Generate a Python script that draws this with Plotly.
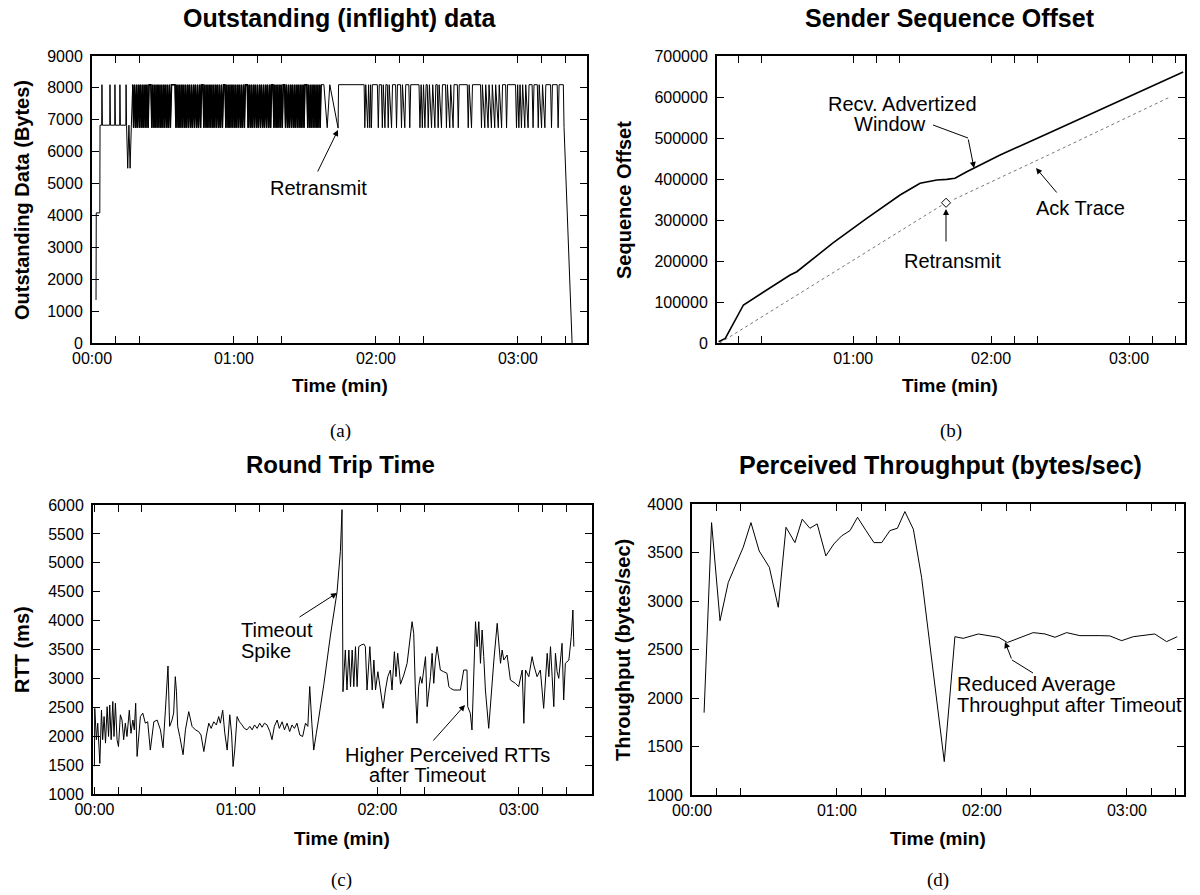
import plotly.graph_objects as go

# ---------------- data ----------------
# (a) Outstanding (inflight) data, time in seconds
out_time = [
    1.7, 1.8, 3.3, 3.4, 4.1, 4.2, 4.4, 7.5, 7.6, 7.8, 9.6, 9.7, 9.9, 11.7, 11.8, 12.0, 14.3, 14.4, 14.6, 15.1, 15.6, 16.1, 16.6,
    17.2, 17.6, 18.0, 18.5, 18.9, 19.3, 19.8, 20.2, 20.6, 21.1, 21.5, 21.9, 22.4, 22.8, 23.2, 23.7, 24.1,
    24.9, 25.3, 25.7, 26.2, 26.6, 27.0, 27.5, 27.9, 28.3, 28.8, 29.2, 29.6, 30.1, 30.5, 30.9, 31.4, 31.8, 32.2, 32.7, 33.1, 33.6,
    35.1, 35.5, 35.9, 36.4, 36.8, 37.2, 37.7, 38.1, 38.5, 39.0, 39.4, 39.8, 40.3, 40.7, 41.1, 41.6, 42.0, 42.4, 42.9, 43.3, 43.7, 44.2, 44.6, 45.0, 45.5, 45.9, 46.3,
    46.9, 47.3, 47.7, 48.2, 48.6, 49.0, 49.5, 49.9, 50.3, 50.8, 51.2, 51.6, 52.1, 52.5, 52.9, 53.4, 53.8, 54.2, 54.7, 55.1, 55.6,
    56.2, 56.6, 57.0, 57.5, 57.9, 58.3, 58.8, 59.2, 59.6, 60.1, 60.5, 60.9, 61.4, 61.8, 62.2, 62.7, 63.1, 63.5, 64.0, 64.4, 64.8,
    65.6, 66.0, 66.4, 66.9, 67.3, 67.7, 68.2, 68.6, 69.0, 69.5, 69.9, 70.3, 70.8, 71.2, 71.6, 72.1, 72.5, 72.9, 73.4, 73.8, 74.2, 74.7, 75.1, 75.5, 75.9,
    76.5, 76.9, 77.3, 77.8, 78.2, 78.6, 79.1, 79.5, 79.9, 80.4, 80.8,
    81.4, 81.8, 82.2, 82.7, 83.1, 83.5, 84.0, 84.4, 84.8, 85.3, 85.7, 86.1, 86.6, 87.0, 87.4, 87.9, 88.3, 88.7, 89.2, 89.6, 90.0,
    90.8, 91.2, 91.6, 92.1, 92.5, 92.9, 93.4, 93.8, 94.2, 94.7, 95.1, 95.5, 96.0, 96.4, 96.8,
    98.0, 99.4, 100.5, 104.0, 104.2,
    115.0, 115.3, 115.7, 116.5, 116.9, 117.4, 117.75, 118.1, 118.5,
    120.6, 121.0, 121.4, 122.3, 122.7, 123.1, 123.8, 124.2, 124.8, 125.2, 125.6, 126.6, 127.0,
    128.3, 128.7, 129.1, 130.4, 130.8, 131.2, 132.2, 132.6, 133.9, 134.3, 134.7,
    138.2, 138.6, 139.1, 139.6, 140.1, 140.7, 141.2, 141.7, 142.1, 142.6, 143.5, 144.0, 144.9, 145.3,
    145.9, 146.3, 146.7, 147.7, 148.1, 149.4, 149.8, 150.2, 151.2, 151.6, 152.6, 153.0, 154.4, 154.8, 155.2,
    158.6, 159.0, 159.4, 160.4, 160.8,
    164.2, 164.6, 165.0, 166.0, 166.4, 167.4, 167.8, 168.8, 169.2, 170.2, 170.6, 171.7, 172.1, 173.1, 173.5, 174.8, 175.2, 175.6,
    179.0, 179.4, 179.9, 180.4, 180.9, 181.5, 182.0, 182.9, 183.3, 184.3, 184.7, 186.0, 186.4, 186.8,
    188.2, 188.6, 189.0, 190.0, 190.4, 191.4, 191.8, 193.8, 194.2, 194.6, 196.6, 197.0, 197.4,
    199.2, 199.5, 202.9,
]
out_bytes = [
    1350, 4080, 4080, 6830, 6830, 8100, 6830, 6830, 8100, 6830, 6830, 8100, 6830, 6830, 8100, 6830, 6830, 8100, 6830, 5480, 6830, 5480, 6750,
    8100, 6750, 8100, 6750, 8100, 6750, 8100, 6750, 8100, 6750, 8100, 6750, 8100, 6750, 8100, 6750, 8100,
    8100, 6750, 8100, 6750, 8100, 6750, 8100, 6750, 8100, 6750, 8100, 6750, 8100, 6750, 8100, 6750, 8100, 6750, 8100, 6750, 8100,
    8100, 6750, 8100, 6750, 8100, 6750, 8100, 6750, 8100, 6750, 8100, 6750, 8100, 6750, 8100, 6750, 8100, 6750, 8100, 6750, 8100, 6750, 8100, 6750, 8100, 6750, 8100,
    8100, 6750, 8100, 6750, 8100, 6750, 8100, 6750, 8100, 6750, 8100, 6750, 8100, 6750, 8100, 6750, 8100, 6750, 8100, 6750, 8100,
    8100, 6750, 8100, 6750, 8100, 6750, 8100, 6750, 8100, 6750, 8100, 6750, 8100, 6750, 8100, 6750, 8100, 6750, 8100, 6750, 8100,
    8100, 6750, 8100, 6750, 8100, 6750, 8100, 6750, 8100, 6750, 8100, 6750, 8100, 6750, 8100, 6750, 8100, 6750, 8100, 6750, 8100, 6750, 8100, 6750, 8100,
    8100, 6750, 8100, 6750, 8100, 6750, 8100, 6750, 8100, 6750, 8100,
    8100, 6750, 8100, 6750, 8100, 6750, 8100, 6750, 8100, 6750, 8100, 6750, 8100, 6750, 8100, 6750, 8100, 6750, 8100, 6750, 8100,
    8100, 6750, 8100, 6750, 8100, 6750, 8100, 6750, 8100, 6750, 8100, 6750, 8100, 6750, 8100,
    8100, 6750, 8100, 6740, 8100,
    8100, 6750, 8100, 6750, 8100, 6750, 8100, 6750, 8100,
    8100, 6750, 8100, 8100, 6750, 8100, 6750, 8100, 8100, 6750, 8100, 6750, 8100,
    8100, 6750, 8100, 8100, 6750, 8100, 6750, 8100, 8100, 6750, 8100,
    8100, 6750, 8100, 6750, 8100, 6750, 8100, 8100, 6750, 8100, 6750, 8100, 6750, 8100,
    8100, 6750, 8100, 6750, 8100, 8100, 6750, 8100, 6750, 8100, 6750, 8100, 8100, 6750, 8100,
    8100, 6750, 8100, 6750, 8100,
    8100, 6750, 8100, 6750, 8100, 6750, 8100, 6750, 8100, 6750, 8100, 6750, 8100, 6750, 8100, 8100, 6750, 8100,
    8100, 6750, 8100, 6750, 8100, 6750, 8100, 6750, 8100, 6750, 8100, 8100, 6750, 8100,
    8100, 6750, 8100, 6750, 8100, 6750, 8100, 8100, 6750, 8100, 8100, 6750, 8100,
    8100, 6750, 0,
]

# (b) Sender sequence offset
win_time = [1.5, 4.4, 12.3, 16.7, 32.6, 35.5, 51.4, 65.9, 80.4, 89.1, 96.4, 100.7, 104.3, 109.4, 123.9, 138.4, 144.9, 203.5]
win_offset = [3000, 11000, 92700, 109000, 165900, 173900, 244700, 304100, 361000, 389500, 397600, 399200, 402000, 417800,
              458500, 495100, 511400, 661000]
ack_time = [2.0, 36.9, 98.7, None, 103.9, 144.9, 197.8]
ack_offset = [0, 121200, 336600, None, 350500, 458500, 600000]
retx_time = [100.4]
retx_offset = [342000]

# (c) Round trip time
rtt_time = [
    0.0, 0.15, 0.85, 1.4, 2.3, 3.0, 3.5, 4.1, 4.7, 5.4, 6.0, 6.5, 7.1, 7.8, 8.3, 8.9, 9.6, 10.2, 11.0, 11.7,
    12.4, 13.1, 13.8, 14.8, 15.5, 16.3, 16.9, 17.5, 18.1, 19.5, 20.5, 21.6, 22.6, 23.7, 25.2, 26.6, 28.0, 29.1, 30.1, 31.2,
    31.9, 32.9, 33.6, 34.3, 34.8, 35.3, 36.2, 37.6, 38.6, 40.0, 41.4, 42.8, 44.2, 45.2, 46.4, 47.5, 48.5, 49.5, 50.6, 51.7,
    52.7, 53.4, 54.4, 55.3, 56.3, 57.4, 58.2, 58.8, 59.5, 60.5, 61.5, 62.6, 63.6, 64.7, 65.9, 66.9, 67.9, 69.0, 70.1, 71.1,
    72.1, 73.2, 74.4, 75.3, 76.3, 77.5, 78.4, 79.6, 80.6, 81.7, 82.8, 83.8, 84.8, 85.9, 87.1, 88.3, 89.5, 90.5, 91.3, 92.2,
    93.0, 94.1, 95.0, 97.3, 100.1, 102.9, 104.3, 105.0, 105.4,
    106.4, 107.1, 107.9, 108.6, 109.3, 110.0, 110.7, 111.4, 112.1, 113.1, 114.2, 114.9, 115.6, 116.8, 117.8, 118.5, 119.2,
    120.2, 121.3, 122.4, 123.4, 124.4, 125.5, 126.2, 127.2, 127.9, 128.6, 129.8,
    131.2, 132.6, 134.7, 135.4, 136.1, 136.8, 137.5, 138.2, 138.9, 140.4, 141.1, 142.5, 143.2, 143.9, 144.6, 145.3, 146.7,
    148.1, 149.5, 150.3, 151.0, 152.4, 153.8, 155.2, 155.9, 156.6, 158.0, 158.3, 159.4, 160.1, 161.6, 162.3, 163.0, 163.7,
    164.4, 165.1, 165.8, 167.2, 169.4, 170.8, 172.2, 172.9, 173.6, 175.0, 176.4, 178.5, 179.9, 181.4, 182.1, 182.8, 184.2,
    185.6, 186.3, 187.7, 189.1, 190.5, 192.0, 192.7, 193.4, 194.1, 194.8, 195.5, 196.2, 196.9, 198.3, 199.0, 199.7, 201.2,
    202.2, 202.9, 203.3,
]
rtt_ms = [
    1480, 2480, 1940, 2225, 1530, 2450, 1940, 2340, 1880, 2510, 1995, 2540, 1940, 2600, 1995, 2570, 1940, 1820, 2370, 2280,
    1940, 2225, 1995, 2450, 2050, 2280, 2110, 2570, 1650, 2340, 2400, 2225, 2250, 1760, 2250, 2280, 2110, 1800, 2450, 3215,
    2170, 2280, 2400, 3030, 2770, 2170, 1995, 1680, 2110, 2425, 2170, 2110, 2080, 2020, 1735, 2020, 2225, 2135, 2250, 2195,
    2340, 2225, 2450, 2050, 1760, 2370, 2020, 1475, 1760, 2340, 2250, 2195, 2135, 2110, 2170, 2110, 2195, 2135, 2225, 2155,
    2225, 2195, 2080, 1940, 2170, 2280, 2135, 2250, 2110, 2225, 2080, 2195, 2135, 2225, 2020, 1995, 2225, 2170, 2860, 2225,
    1760, 2050, 2280, 2900, 3750, 4500, 5200, 5920, 2770,
    3491, 2799, 3491, 2857, 3491, 2857, 3549, 2857, 3549, 3578, 3595, 3549, 2799, 3549, 2799, 3318, 2799,
    3116, 2799, 2482, 2799, 3030, 3145, 2799, 3462, 3030, 3434, 2900,
    3059, 3261, 3981, 3780, 2799, 2223, 2857, 3030, 2915, 3376, 2511, 3030, 3434, 2915, 3318, 3549, 3145,
    3116, 3088, 2857, 2828, 2799, 2799, 2799, 2972, 3145, 3145, 2511, 2396, 2107, 3981, 3549, 3981, 3261,
    3837, 3376, 2799, 2136, 3318, 3953, 3261, 3491, 3318, 3405, 2972, 2915, 2857, 3145, 2223, 3145, 3030,
    3376, 3232, 3030, 3145, 2482, 3434, 3030, 3549, 3030, 2511, 3434, 3116, 3001, 3607, 2626, 3261, 3318,
    3722, 4183, 3550,
]

# (d) Perceived throughput
thr_time = [5.0, 8.1, 11.6, 15.0, 17.8, 21.2, 24.4, 27.8, 32.0, 35.7, 38.9, 42.6, 45.6, 48.8, 51.8, 55.4, 58.7, 61.9,
            65.4, 68.5, 72.0, 75.3, 78.5, 81.9, 85.0, 88.1, 91.6, 95.0, 104.4, 108.8, 112.2, 118.5, 127.0, 130.5,
            141.2, 146.1, 150.2, 155.0, 160.5, 168.8, 172.9, 177.8, 182.6, 191.5, 196.4, 200.8]
thr_bps = [1849, 3808, 2797, 3191, 3355, 3554, 3808, 3516, 3348, 2935, 3760, 3602, 3843, 3750, 3795, 3465, 3588, 3671,
           3726, 3863, 3726, 3602, 3602, 3726, 3750, 3922, 3740, 3245, 1344, 2632, 2615, 2660, 2625, 2572,
           2674, 2660, 2626, 2674, 2643, 2643, 2640, 2591, 2632, 2660, 2581, 2632]

# tick labels
time_tickvals = [0, 10, 20, 60, 70, 80, 120, 130, 140, 180, 190, 200]
time_ticktext = ["00:00", "", "", "01:00", "", "", "02:00", "", "", "03:00", "", ""]

# ---------------- figure ----------------
W, H = 1200, 895


def fx(x):
    return x / W


def fy(y):
    return 1 - y / H


SANS = "Liberation Sans"
SERIF = "Liberation Serif"

fig = go.Figure()
LINE = dict(color="black", width=1, simplify=False)
fig.add_trace(go.Scatter(x=out_time, y=out_bytes, mode="lines", line=LINE, xaxis="x", yaxis="y"))
# the densely oscillating stretch is drawn a little heavier so it reads as the dark band of the original
i0, i1 = out_time.index(17.2), out_time.index(96.8) + 1
fig.add_trace(go.Scatter(x=out_time[i0:i1], y=out_bytes[i0:i1], mode="lines",
                         line=dict(color="black", width=1.6, simplify=False), xaxis="x", yaxis="y"))
fig.add_trace(go.Scatter(x=win_time, y=win_offset, mode="lines", line=dict(color="black", width=1.6),
                         xaxis="x2", yaxis="y2"))
fig.add_trace(go.Scatter(x=ack_time, y=ack_offset, mode="lines", line=dict(color="#777777", width=1, dash="dot"),
                         connectgaps=False, xaxis="x2", yaxis="y2"))
fig.add_trace(go.Scatter(x=retx_time, y=retx_offset, mode="markers",
                         marker=dict(symbol="diamond-open", size=7, color="black", line=dict(width=1)),
                         xaxis="x2", yaxis="y2"))
fig.add_trace(go.Scatter(x=rtt_time, y=rtt_ms, mode="lines", line=LINE, xaxis="x3", yaxis="y3"))
fig.add_trace(go.Scatter(x=thr_time, y=thr_bps, mode="lines", line=LINE, xaxis="x4", yaxis="y4"))


def xax(dom, rng, anchor):
    return dict(domain=[fx(dom[0]), fx(dom[1])], range=rng, anchor=anchor, automargin=False,
                tickmode="array", tickvals=time_tickvals, ticktext=time_ticktext,
                showline=True, linecolor="black", linewidth=2, mirror="ticks",
                ticks="inside", ticklen=7, tickwidth=1, tickcolor="black",
                showgrid=False, zeroline=False,
                tickfont=dict(family=SANS, size=16, color="black"))


def yax(dom, rng, vals, anchor):
    return dict(domain=[fy(dom[1]), fy(dom[0])], range=rng, anchor=anchor, automargin=False,
                tickmode="array", tickvals=vals, ticktext=[str(v) for v in vals],
                showline=True, linecolor="black", linewidth=2, mirror="ticks",
                ticks="inside", ticklen=7, tickwidth=1, tickcolor="black",
                showgrid=False, zeroline=False, ticklabelstandoff=4,
                tickfont=dict(family=SANS, size=16, color="black"))


fig.update_layout(
    width=W, height=H, margin=dict(l=0, r=0, t=0, b=0, autoexpand=False),
    paper_bgcolor="white", plot_bgcolor="white", showlegend=False,
    xaxis=xax((92, 587), [0, 209.2], "y"),
    yaxis=yax((56, 343), [0, 9000], [0, 1000, 2000, 3000, 4000, 5000, 6000, 7000, 8000, 9000], "x"),
    xaxis2=xax((717, 1185), [0.8, 204.3], "y2"),
    yaxis2=yax((56, 343), [0, 700000], [0, 100000, 200000, 300000, 400000, 500000, 600000, 700000], "x2"),
    xaxis3=xax((93, 592), [-0.6, 211], "y3"),
    yaxis3=yax((505, 794), [1000, 6000], [1000, 1500, 2000, 2500, 3000, 3500, 4000, 4500, 5000, 5500, 6000], "x3"),
    xaxis4=xax((692, 1184), [0, 203.6], "y4"),
    yaxis4=yax((504, 795), [1000, 4000], [1000, 1500, 2000, 2500, 3000, 3500, 4000], "x4"),
)

ann = []


def text(x, y, s, size, family=SANS, bold=False, angle=0, xanchor="center"):
    ann.append(dict(x=fx(x), y=fy(y), xref="paper", yref="paper", showarrow=False,
                    text=("<b>%s</b>" % s) if bold else s, textangle=angle,
                    xanchor=xanchor, yanchor="middle",
                    font=dict(family=family, size=size, color="black")))


def arrow(hx, hy, tx, ty):
    ann.append(dict(x=fx(hx), y=fy(hy), xref="paper", yref="paper", text="", showarrow=True,
                    ax=tx - hx, ay=ty - hy, axref="pixel", ayref="pixel",
                    arrowhead=2, arrowsize=1.2, arrowwidth=1, arrowcolor="black"))


shapes = []


def seg(x0, y0, x1, y1):
    shapes.append(dict(type="line", xref="paper", yref="paper", x0=fx(x0), y0=fy(y0), x1=fx(x1), y1=fy(y1),
                       line=dict(color="black", width=1)))


# titles
text(340, 18, "Outstanding (inflight) data", 25, bold=True)
text(950, 18, "Sender Sequence Offset", 25, bold=True)
text(340, 465, "Round Trip Time", 24, bold=True)
text(940, 465, "Perceived Throughput (bytes/sec)", 25, bold=True)
# axis titles
for cx, cy in [(340, 385), (950, 385), (342, 838), (938, 838)]:
    text(cx, cy, "Time (min)", 19, bold=True)
text(22, 200, "Outstanding Data (Bytes)", 20, bold=True, angle=-90)
text(624, 200, "Sequence Offset", 20, bold=True, angle=-90)
text(22, 650, "RTT (ms)", 20, bold=True, angle=-90)
text(623, 650, "Throughput (bytes/sec)", 20, bold=True, angle=-90)
# captions
text(340, 431, "(a)", 19, family=SERIF)
text(951, 431, "(b)", 19, family=SERIF)
text(342, 880, "(c)", 19, family=SERIF)
text(938, 880, "(d)", 19, family=SERIF)

# annotations (a)
text(318, 188, "Retransmit", 20)
arrow(338, 130, 317, 173)
# (b)
text(902, 104, "Recv. Advertized", 20)
text(890, 124, "Window", 20)
seg(933, 125, 968, 138)
arrow(974, 168, 968, 138)
text(952, 261, "Retransmit", 20)
arrow(946, 209, 946, 243)
text(1080, 208, "Ack Trace", 20)
arrow(1036, 168, 1058, 194)
# (c)
text(239, 630, "Timeout", 20, xanchor="left")
text(239, 651, "Spike", 20, xanchor="left")
arrow(337, 593, 298, 618)
text(343, 755, "Higher Perceived RTTs", 20, xanchor="left")
text(367, 775, "after Timeout", 20, xanchor="left")
arrow(465, 705, 432, 742)
# (d)
text(955, 684, "Reduced Average", 20, xanchor="left")
text(955, 705, "Throughput after Timeout", 20, xanchor="left")
seg(1033, 673, 1012, 660)
arrow(1005, 642, 1012, 660)

fig.update_layout(annotations=ann, shapes=shapes)
fig.write_html("out.html", config={"displayModeBar": False},
               post_script="document.body.style.margin='0';document.body.style.overflow='hidden';")
